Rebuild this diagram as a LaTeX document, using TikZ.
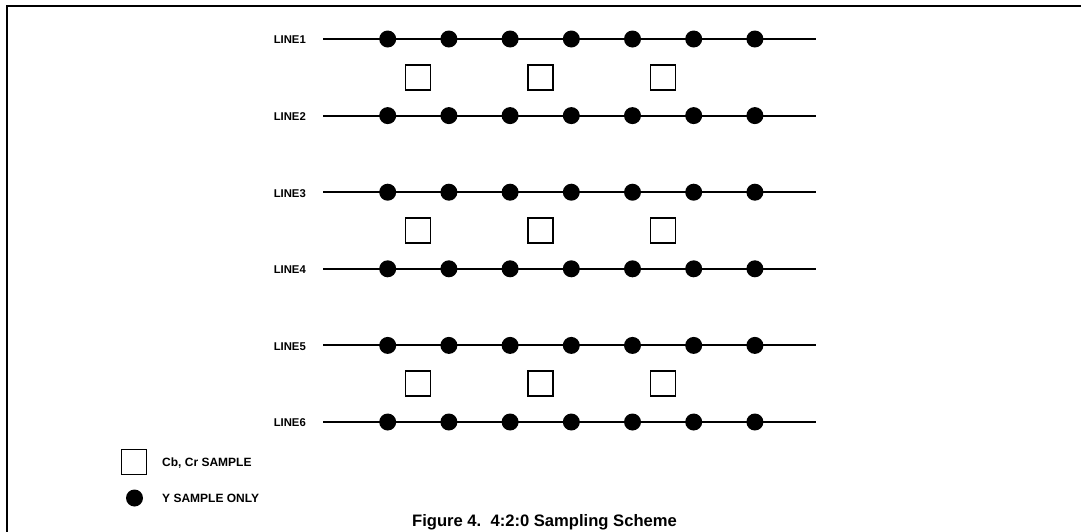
\documentclass[tikz,border=0pt]{standalone}
\usepackage{fontspec}
\setmainfont{Liberation Sans}
\begin{document}
\begin{tikzpicture}[x=1pt,y=-1pt,
  frame/.style={line width=2pt, line cap=rect},
  sampline/.style={line width=2pt},
  ydot/.style={circle, fill=black, minimum size=17pt, inner sep=0pt},
  cbox/.style={draw, line width=1.7pt, fill=white, minimum size=25pt, inner sep=0pt},
  lbl/.style={font=\bfseries\fontsize{11.3}{13}\selectfont, inner sep=0pt},
  legtext/.style={font=\bfseries\fontsize{12}{14}\selectfont, inner sep=0pt, anchor=base west},
  captext/.style={font=\bfseries\fontsize{16.6}{19}\selectfont, inner sep=0pt, anchor=base}]
\useasboundingbox (0,0) rectangle (1081,531);
\draw[frame] (7,531) -- (7,6) -- (1081,6);
\foreach \r/\y in {1/39,2/115.6,3/192.2,4/268.8,5/345.4,6/422} {
  \coordinate (s\r) at (323,\y);
  \coordinate (e\r) at (816,\y);
  \node[lbl, anchor=east] (L\r) at (306,\y+1) {LINE\r};
  \draw[sampline] (s\r) -- (e\r);
  \foreach \i in {0,...,6}
    \node[ydot] (d\r-\i) at ({387.7+61.2*\i},\y) {};
}
\foreach \k/\y in {1/77.3,2/230.5,3/383.7} {
  \foreach \j/\x in {1/418,2/540.5,3/663}
    \node[cbox] (c\k-\j) at (\x,\y) {};
}
% legend
\node[cbox] (legbox) at (134,462) {};
\node[legtext] (legboxtext) at (162,466.3) {Cb, Cr SAMPLE};
\node[ydot] (legdot) at (134.5,498) {};
\node[legtext] (legdottext) at (162,502.3) {Y SAMPLE ONLY};
% caption
\node[captext] (caption) at (544.5,526.7) {Figure 4.\ \ 4:2:0 Sampling Scheme};
\end{tikzpicture}
\end{document}
